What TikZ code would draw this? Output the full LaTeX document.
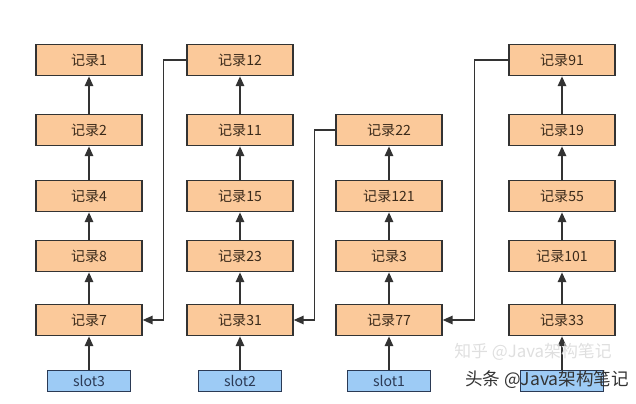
\documentclass[tikz,border=0pt]{standalone}
\usepackage{fontspec}
\setmainfont{Noto Sans CJK SC}
\usepackage{xcolor}
\usepackage{tikz}
\usetikzlibrary{positioning,arrows.meta}
\definecolor{RecFill}{HTML}{FBC99A}
\definecolor{SlotFill}{HTML}{9DCBF5}
\definecolor{LineDark}{HTML}{333333}
\definecolor{SlotLine}{HTML}{2B3A55}
\definecolor{TextDark}{HTML}{3A2A1A}

\begin{document}
\begin{tikzpicture}[x=0.025cm,y=-0.025cm,
          every node/.style={font=\fontsize{10}{12}\selectfont},
          rec/.style={draw=LineDark, fill=RecFill, line width=1pt,
            minimum width=2.65cm, minimum height=0.78cm, text=TextDark},
          slotbox/.style={draw=SlotLine, fill=SlotFill, line width=1pt,
            minimum width=2.08cm, minimum height=0.53cm, text=SlotLine},
          ar/.style={-{Triangle[width=6pt,length=7pt]},LineDark,line width=1.3pt},
          el/.style={-{Triangle[width=6pt,length=7pt]},LineDark,line width=1pt}]
        \useasboundingbox (0,0) rectangle (636,403);
        % chain under slot3
        \node[rec] (r1) at (89,60) {记录1};
        \node[rec] (r2) at (89,130) {记录2};
        \node[rec] (r4) at (89,196) {记录4};
        \node[rec] (r8) at (89,256) {记录8};
        \node[rec] (r7) at (89,320) {记录7};
        \node[slotbox] (s3) at (89,381) {slot3};
        % chain under slot2
        \node[rec] (r12) at (240,60) {记录12};
        \node[rec] (r11) at (240,130) {记录11};
        \node[rec] (r15) at (240,196) {记录15};
        \node[rec] (r23) at (240,256) {记录23};
        \node[rec] (r31) at (240,320) {记录31};
        \node[slotbox] (s2) at (240,381) {slot2};
        % chain under slot1
        \node[rec] (r22) at (389,130) {记录22};
        \node[rec] (r121) at (389,196) {记录121};
        \node[rec] (r3) at (389,256) {记录3};
        \node[rec] (r77) at (389,320) {记录77};
        \node[slotbox] (s1) at (389,381) {slot1};
        % last chain
        \node[rec] (r91) at (562,60) {记录91};
        \node[rec] (r19) at (562,130) {记录19};
        \node[rec] (r55) at (562,196) {记录55};
        \node[rec] (r101) at (562,256) {记录101};
        \node[rec] (r33) at (562,320) {记录33};
        \node[slotbox] (s0) at (562,381) {};
        % upward links
        \draw[ar](r2)--(r1); \draw[ar](r4)--(r2); \draw[ar](r8)--(r4);
        \draw[ar](r7)--(r8); \draw[ar](s3)--(r7);
        \draw[ar](r11)--(r12); \draw[ar](r15)--(r11); \draw[ar](r23)--(r15);
        \draw[ar](r31)--(r23); \draw[ar](s2)--(r31);
        \draw[ar](r121)--(r22); \draw[ar](r3)--(r121); \draw[ar](r77)--(r3);
        \draw[ar](s1)--(r77);
        \draw[ar](r19)--(r91); \draw[ar](r55)--(r19); \draw[ar](r101)--(r55);
        \draw[ar](r33)--(r101); \draw[ar](s0)--(r33);
        % tail of each chain goes to the next chain
        \draw[el](r12.west)--++(-23,0)|-(r7.east);
        \draw[el](r22.west)--++(-21,0)|-(r31.east);
        \draw[el](r91.west)--++(-34,0)|-(r77.east);
        % watermarks
        \node[text=gray!25, font=\fontsize{12}{14}\selectfont] (wm1) at (533,352)
          {知乎 @Java架构笔记};
        \node[text=black!80, font=\fontsize{12.5}{14}\selectfont] (wm2) at (547,380)
          {头条 @Java架构笔记};
      \end{tikzpicture}
\end{document}
